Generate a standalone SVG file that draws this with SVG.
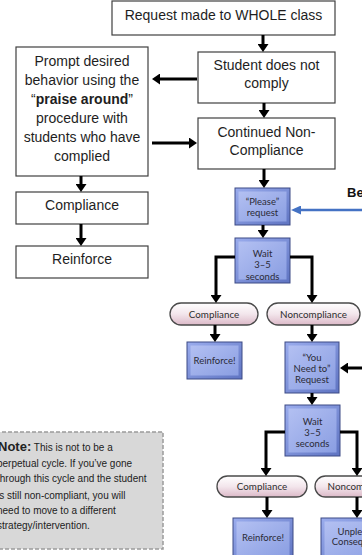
<svg xmlns="http://www.w3.org/2000/svg" width="362" height="555" viewBox="0 0 362 555">
<defs>
<marker id="ah" viewBox="0 0 8 11" refX="3" refY="5.5" markerWidth="8" markerHeight="11" markerUnits="userSpaceOnUse" orient="auto"><path d="M0,0 L8,5.5 L0,11 z" fill="#000"/></marker>
<marker id="ahb" viewBox="0 0 10 9" refX="3" refY="4.5" markerWidth="10" markerHeight="9" markerUnits="userSpaceOnUse" orient="auto"><path d="M0,0 L10,4.5 L0,9 z" fill="#4472c4"/></marker>
<linearGradient id="gb" x1="0" y1="0" x2="1" y2="1"><stop offset="0" stop-color="#b3c0f2"/><stop offset="1" stop-color="#8a9ee2"/></linearGradient>
<linearGradient id="go" x1="0" y1="0" x2="1" y2="1"><stop offset="0" stop-color="#9aaced"/><stop offset="1" stop-color="#5f74c2"/></linearGradient>
<linearGradient id="gp" x1="0" y1="0" x2="0" y2="1"><stop offset="0" stop-color="#ffffff"/><stop offset="0.5" stop-color="#f3e6ec"/><stop offset="1" stop-color="#dcb9c8"/></linearGradient>
</defs>
<style>
.box{fill:#fff;stroke:#404040;stroke-width:1.2}
.t{font-family:"Liberation Sans",Arial,sans-serif;font-size:14px;fill:#1e1e1e;text-anchor:middle}
.bo{fill:url(#go);stroke:#3c4a85;stroke-width:1}
.bi{fill:url(#gb)}
.bt{font-family:Lato,"Noto Sans",sans-serif;font-size:9.5px;fill:#2a2a36;text-anchor:middle}
.pill{fill:url(#gp);stroke:#4a4a4a;stroke-width:1.3}
.pt{font-family:Lato,"Noto Sans",sans-serif;font-size:9.8px;fill:#2e2e2e;text-anchor:middle}
.c{fill:none;stroke:#000;stroke-width:3;marker-end:url(#ah)}
.nt{font-family:"Liberation Sans",Arial,sans-serif;font-size:10px;fill:#222}
</style>

<g id="n-request">
<rect class="box" x="112" y="1" width="223" height="34"/>
<text class="t" x="223.5" y="20">Request made to WHOLE class</text>
</g>
<g id="n-student">
<rect class="box" x="198" y="52" width="137" height="51"/>
<text class="t" x="266.5" y="70">Student does not</text>
<text class="t" x="266.5" y="88">comply</text>
</g>
<g id="n-prompt">
<rect class="box" x="16" y="47" width="132" height="129"/>
<text class="t" x="82" y="66">Prompt desired</text>
<text class="t" x="82" y="85">behavior using the</text>
<text class="t" x="82" y="104">“<tspan font-weight="bold">praise around</tspan>”</text>
<text class="t" x="82" y="123">procedure with</text>
<text class="t" x="82" y="142">students who have</text>
<text class="t" x="82" y="161">complied</text>
</g>
<g id="n-continued">
<rect class="box" x="198" y="118" width="137" height="51"/>
<text class="t" x="266.5" y="137">Continued Non-</text>
<text class="t" x="266.5" y="155">Compliance</text>
</g>
<g id="n-compliance-l">
<rect class="box" x="16" y="192" width="132" height="32"/>
<text class="t" x="82" y="210">Compliance</text>
</g>
<g id="n-reinforce-l">
<rect class="box" x="16" y="246" width="132" height="32"/>
<text class="t" x="82" y="264">Reinforce</text>
</g>

<g id="n-please">
<rect class="bo" x="235" y="188" width="55" height="37"/>
<rect class="bi" x="238.5" y="191.5" width="48" height="30"/>
<text class="bt" x="262.5" y="205">“Please”</text>
<text class="bt" x="262.5" y="216">request</text>
</g>
<g id="n-wait1">
<rect class="bo" x="235" y="238" width="55" height="45"/>
<rect class="bi" x="238.5" y="241.5" width="48" height="38"/>
<text class="bt" x="262.5" y="256.5">Wait</text>
<text class="bt" x="262.5" y="268">3–5</text>
<text class="bt" x="262.5" y="279.5">seconds</text>
</g>
<g id="n-comp1">
<rect class="pill" x="170" y="303" width="88" height="22" rx="11"/>
<text class="pt" x="214" y="317.5">Compliance</text>
</g>
<g id="n-noncomp1">
<rect class="pill" x="267" y="303" width="93" height="22" rx="11"/>
<text class="pt" x="313.5" y="317.5">Noncompliance</text>
</g>
<g id="n-reinf1">
<rect class="bo" x="187" y="342" width="55" height="37"/>
<rect class="bi" x="190.5" y="345.5" width="48" height="30"/>
<text class="bt" x="214.5" y="363.5">Reinforce!</text>
</g>
<g id="n-youneed">
<rect class="bo" x="285" y="342" width="54" height="51"/>
<rect class="bi" x="288.5" y="345.5" width="47" height="44"/>
<text class="bt" x="312" y="360.5">“You</text>
<text class="bt" x="312" y="371.5">Need to”</text>
<text class="bt" x="312" y="382.5">Request</text>
</g>
<g id="n-wait2">
<rect class="bo" x="285" y="405" width="55" height="51"/>
<rect class="bi" x="288.5" y="408.5" width="48" height="44"/>
<text class="bt" x="312.5" y="424.5">Wait</text>
<text class="bt" x="312.5" y="435.5">3–5</text>
<text class="bt" x="312.5" y="446.5">seconds</text>
</g>
<g id="n-comp2">
<rect class="pill" x="217" y="476" width="90" height="21" rx="10.5"/>
<text class="pt" x="262" y="490">Compliance</text>
</g>
<g id="n-noncomp2">
<rect class="pill" x="315" y="476" width="92" height="21" rx="10.5"/>
<text class="pt" x="361" y="490">Noncompliance</text>
</g>
<g id="n-reinf2">
<rect class="bo" x="233" y="518" width="60" height="42"/>
<rect class="bi" x="236.5" y="521.5" width="53" height="36"/>
<text class="bt" x="263" y="540.5">Reinforce!</text>
</g>
<g id="n-unpleasant">
<rect class="bo" x="321" y="518" width="80" height="42"/>
<rect class="bi" x="324.5" y="521.5" width="73" height="36"/>
<text class="bt" x="361" y="534.5">Unpleasant</text>
<text class="bt" x="360" y="544.5">Consequence</text>
</g>
<g id="n-be">
<text x="347" y="197" font-family="'Liberation Sans',Arial,sans-serif" font-size="13px" font-weight="bold" fill="#111">Be</text>
</g>
<g id="n-note">
<rect x="-10" y="432" width="173" height="117" fill="#d8d8d8" stroke="#9a9a9a" stroke-width="1.5" stroke-dasharray="4 2"/>
<text class="nt" x="-2" y="451"><tspan font-weight="bold" font-size="13px">Note:</tspan> This is not to be a</text>
<text class="nt" x="-3" y="467">perpetual cycle.  If you’ve gone</text>
<text class="nt" x="-3" y="482">through this cycle and the student</text>
<text class="nt" x="-3" y="499">is still non-compliant, you will</text>
<text class="nt" x="-3" y="514">need to move to a different</text>
<text class="nt" x="-3" y="529">strategy/intervention.</text>
</g>

<g id="connectors">
<path class="c" d="M263,35 V47"/>
<path class="c" d="M264,103 V113"/>
<path class="c" d="M197,79 H157"/>
<path class="c" d="M152,143 H192"/>
<path class="c" d="M81,176 V187"/>
<path class="c" d="M81,224 V241"/>
<path class="c" d="M264,169 V183"/>
<path class="c" d="M263,225 V233"/>
<path class="c" d="M235,257 H216 V298"/>
<path class="c" d="M290,257 H312 V298"/>
<path class="c" d="M215,325 V337"/>
<path class="c" d="M312,325 V337"/>
<path class="c" d="M362,368 H345"/>
<path class="c" d="M312,393 V400"/>
<path class="c" d="M285,432 H266 V471"/>
<path class="c" d="M340,432 H357 V471"/>
<path class="c" d="M267,497 V513"/>
<path class="c" d="M357,497 V513"/>
<path d="M362,210 H298" fill="none" stroke="#4472c4" stroke-width="2.5" marker-end="url(#ahb)"/>
</g>
</svg>
